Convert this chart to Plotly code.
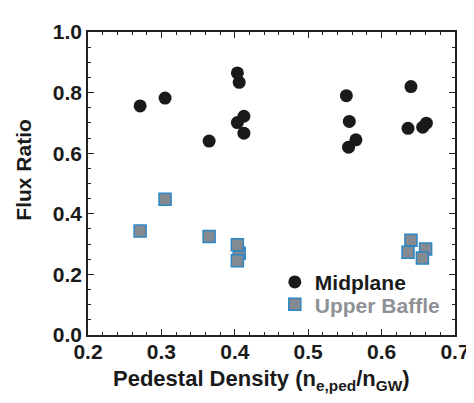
import plotly.graph_objects as go

# Midplane (circles)
mid_x = [0.271, 0.305, 0.365, 0.4035, 0.406, 0.4124, 0.4035, 0.4124,
         0.552, 0.556, 0.565, 0.555, 0.640, 0.636, 0.656, 0.661]
mid_y = [0.756, 0.782, 0.640, 0.865, 0.834, 0.722, 0.701, 0.666,
         0.790, 0.705, 0.644, 0.620, 0.820, 0.682, 0.686, 0.699]

# Upper Baffle (squares)
ub_x = [0.271, 0.305, 0.365, 0.406, 0.4035, 0.4035, 0.640, 0.636, 0.660, 0.6556]
ub_y = [0.343, 0.448, 0.325, 0.270, 0.298, 0.245, 0.313, 0.273, 0.284, 0.254]

x_ticks = [0.2, 0.3, 0.4, 0.5, 0.6, 0.7]
y_ticks = [0.0, 0.2, 0.4, 0.6, 0.8, 1.0]

FONT = "Liberation Sans, Arial, Helvetica, sans-serif"
GRAY = "#8e9196"
INK = "#1a1a1a"

fig = go.Figure()
fig.add_trace(go.Scatter(
    x=mid_x, y=mid_y, mode="markers", name="<b>Midplane</b>", legend="legend",
    marker=dict(symbol="circle", size=13, color=INK, line=dict(width=0)),
))
fig.add_trace(go.Scatter(
    x=ub_x, y=ub_y, mode="markers", legend="legend2",
    name=f"<b><span style='color:{GRAY}'>Upper Baffle</span></b>",
    marker=dict(symbol="square", size=12, color="#858a90",
                line=dict(width=1.5, color="#2b86c5")),
))

axis_common = dict(
    showgrid=False, zeroline=False, showline=True, linecolor="#222",
    linewidth=1.5, mirror="ticks", ticks="inside", tickcolor="#222",
    ticklen=6, tickwidth=1.3,
    tickfont=dict(family=FONT, size=21, color=INK),
)

fig.update_xaxes(
    range=[0.2, 0.7], tickvals=x_ticks, ticktext=[f"<b>{v:.1f}</b>" for v in x_ticks],
    minor=dict(dtick=0.02, tick0=0.2, ticks="inside", ticklen=3, tickcolor="#222", tickwidth=1),
    ticklabelstandoff=-3,
    **axis_common,
)
fig.update_yaxes(
    range=[0.0, 1.0], tickvals=y_ticks, ticktext=[f"<b>{v:.1f}</b>" for v in y_ticks],
    minor=dict(dtick=0.05, tick0=0.0, ticks="inside", ticklen=3, tickcolor="#222", tickwidth=1),
    **axis_common,
)

fig.add_annotation(
    text="<b>Pedestal Density (n<sub>e,ped</sub>/n<sub>GW</sub>)</b>", showarrow=False,
    xref="paper", yref="paper", x=0.472, y=-0.15, xanchor="center", yanchor="middle",
    font=dict(family=FONT, size=22, color=INK),
)
fig.add_annotation(
    text="<b>Flux Ratio</b>", textangle=-90, showarrow=False,
    xref="paper", yref="paper", x=-0.175, y=0.545, xanchor="center", yanchor="middle",
    font=dict(family=FONT, size=21, color=INK),
)

leg_common = dict(xanchor="left", yanchor="middle", bgcolor="rgba(0,0,0,0)",
                  font=dict(family=FONT, size=21, color=INK), itemwidth=30)
fig.update_layout(
    width=474, height=403,
    margin=dict(l=80, r=19, t=15, b=76),
    plot_bgcolor="white", paper_bgcolor="white",
    font=dict(family=FONT, color=INK),
    legend=dict(x=0.509, y=0.174, **leg_common),
    legend2=dict(x=0.509, y=0.10, **leg_common),
    showlegend=True,
)

fig.write_html("out.html")
